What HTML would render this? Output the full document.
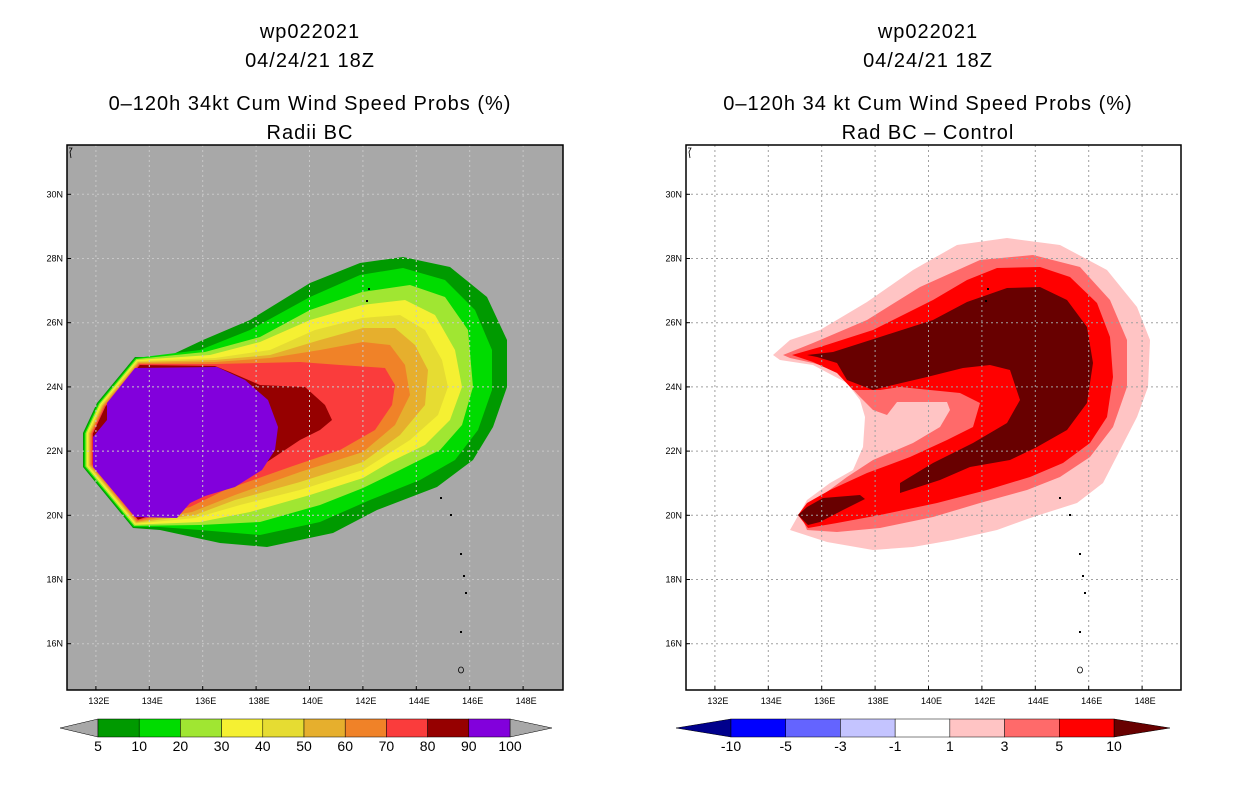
<!DOCTYPE html>
<html><head><meta charset="utf-8"><style>
body{margin:0;background:#fff;width:1236px;height:800px;overflow:hidden}
svg{display:block}
text{font-family:"Liberation Sans",sans-serif}
</style></head><body>
<svg id="s" width="1236" height="800" xmlns="http://www.w3.org/2000/svg">
<g font-size="20" text-anchor="middle" fill="#000" letter-spacing="1">
<text x="310" y="38">wp022021</text>
<text x="310" y="67">04/24/21 18Z</text>
<text x="310" y="110">0–120h 34kt Cum Wind Speed Probs (%)</text>
<text x="310" y="139">Radii BC</text>
</g>
<g font-size="20" text-anchor="middle" fill="#000" letter-spacing="1">
<text x="928" y="38">wp022021</text>
<text x="928" y="67">04/24/21 18Z</text>
<text x="928" y="110">0–120h 34 kt Cum Wind Speed Probs (%)</text>
<text x="928" y="139">Rad BC – Control</text>
</g>
<rect x="67" y="145" width="496" height="545" fill="#a8a8a8"/>
<rect x="686" y="145" width="495" height="545" fill="#fff"/>
<g id="lc"></g>
<g id="rc"></g>
<g id="grid"></g>
<g id="ax"></g>
<g id="cb"></g>
</svg>
<script>
const NS='http://www.w3.org/2000/svg';
const leftLevels=['5','10','20','30','40','50','60','70','80','90','100'];
const leftColors=['#009a00','#00dc00','#a0e632','#f5f032','#e6dc32','#e6af2d','#f08228','#fa3c3c','#960000','#8200dc'];
const rightLevels=['-10','-5','-3','-1','1','3','5','10'];
const rightColors=['#00008c','#0000ff','#6464ff','#c4c4ff','#ffffff','#ffc4c4','#ff6a6a','#ff0000','#680000'];
const lonTicks=[132,134,136,138,140,142,144,146,148];
const latTicks=[16,18,20,22,24,26,28,30];
function lonX(lon,off){return 95.9+(lon-132)*26.7+off;}
function latY(lat){return 515.3-(lat-20)*32.1;}
function mk(tag,attrs,parent){const e=document.createElementNS(NS,tag);for(const k in attrs)e.setAttribute(k,attrs[k]);parent.appendChild(e);return e;}
function poly(p){return 'M'+p.map(q=>q.join(',')).join(' L')+'Z';}
const oct=[[133,528],[83,467],[83,433],[97,403],[135,357]];
function octIn(i){const c=[185,440],f=1-i*0.012;return oct.map(q=>[+(c[0]+(q[0]-c[0])*f).toFixed(1),+(c[1]+(q[1]-c[1])*f).toFixed(1)]);}
const lshapes=[
[[167,357],[203,340],[250,320],[310,283],[360,263],[403,257],[450,267],[487,297],[507,340],[507,387],[493,427],[473,460],[437,487],[377,510],[333,533],[267,547],[220,543],[160,530]],
[[200,350],[250,330],[310,297],[360,275],[403,268],[445,280],[475,310],[492,350],[492,390],[478,430],[455,460],[420,480],[370,500],[320,522],[260,535],[200,530],[160,527]],
[[205,352],[260,337],[310,310],[362,292],[410,285],[445,297],[468,330],[473,387],[462,425],[440,450],[400,470],[363,488],[320,505],[260,522],[200,525]],
[[210,355],[260,342],[310,320],[362,305],[405,300],[435,315],[455,350],[462,387],[450,420],[425,445],[390,462],[363,478],[310,495],[250,512],[200,522]],
[[215,358],[270,350],[315,330],[362,318],[400,315],[425,330],[442,360],[448,387],[438,415],[410,440],[363,470],[300,490],[240,505],[195,518]],
[[215,360],[270,355],[320,340],[363,328],[395,328],[415,345],[428,370],[425,405],[400,435],[363,462],[300,482],[235,500],[195,515]],
[[215,362],[270,358],[320,350],[363,342],[390,345],[405,365],[410,395],[395,425],[363,452],[300,472],[235,495],[192,512]],
[[215,364],[260,363],[300,362],[340,365],[385,368],[395,385],[392,405],[375,430],[340,450],[290,467],[225,490],[190,507]],
[[215,366],[230,372],[260,385],[305,387],[325,405],[332,420],[320,430],[300,440],[270,460],[240,480],[205,493],[190,503]]
];
const lc=document.getElementById('lc');
lshapes.forEach((s,i)=>{const pts=s.concat(octIn(i));
 const e=mk('path',{d:poly(pts),fill:leftColors[i]},lc);
 
 });
const pur=mk('path',{d:poly([[135,368],[217,367],[245,380],[268,400],[278,427],[275,450],[262,470],[235,487],[205,496],[190,503],[177,518],[135,517],[93,467],[93,437],[107,420],[107,403]]),fill:leftColors[9]},lc);


const rshapes=[
[[773,355],[790,340],[820,330],[867,302],[913,270],[957,245],[1007,238],[1060,245],[1107,270],[1137,307],[1150,340],[1148,387],[1137,417],[1120,450],[1103,483],[1077,503],[1033,517],[997,530],[953,540],[913,547],[873,550],[827,542],[790,530],[807,500],[830,483],[853,470],[863,447],[865,417],[860,400],[847,383],[813,365],[780,360]],
[[783,355],[813,343],[867,320],[920,287],[980,260],[1033,255],[1080,267],[1110,300],[1127,340],[1127,387],[1113,427],[1090,457],[1060,477],[1027,490],[980,503],[933,517],[880,528],[837,532],[807,530],[800,513],[820,497],[847,477],[873,460],[913,443],[940,427],[950,410],[947,402],[897,402],[887,415],[873,410],[860,397],[847,383],[837,370],[813,363],[790,358]],
[[792,355],[820,347],[873,330],[933,300],[967,280],[997,268],[1040,267],[1070,277],[1097,303],[1110,337],[1113,377],[1107,417],[1090,443],[1063,463],[1030,477],[987,490],[937,503],[880,515],[837,523],[808,528],[798,515],[807,503],[830,490],[867,473],[910,457],[947,440],[973,427],[980,403],[960,393],[930,390],[900,387],[880,390],[853,390],[837,373],[813,362]],
[[807,355],[833,352],[880,337],[933,320],[967,302],[1007,288],[1040,287],[1067,300],[1087,327],[1093,363],[1087,403],[1067,430],[1037,447],[1010,460],[970,467],[940,480],[900,493],[900,483],[933,463],[973,443],[1007,423],[1020,400],[1010,370],[990,365],[963,368],[927,377],[893,385],[873,390],[847,380],[837,363],[817,357]]
];
const rc=document.getElementById('rc');
rshapes.forEach((s,i)=>{const e=mk('path',{d:poly(s),fill:rightColors[5+i]},rc);
 
 });
const blob=mk('path',{d:poly([[798,515],[807,507],[823,498],[860,495],[865,499],[843,510],[820,522],[808,525]]),fill:rightColors[8]},rc);


const grid=document.getElementById('grid'),ax=document.getElementById('ax');
[[0,67,563,'#c8c8c8'],[619,686,1181,'#a0a0a0']].forEach(([off,x0,x1,gc],pi)=>{
 lonTicks.forEach(l=>{const x=lonX(l,off);
  const g=mk('line',{x1:x,x2:x,y1:145,y2:690,stroke:gc,'stroke-dasharray':'2,3','stroke-width':1},grid);
  
  
  const t=mk('text',{x:x+3,y:704,'font-size':9,'text-anchor':'middle'},ax);t.textContent=l+'E';
  
  
  mk('line',{x1:x,x2:x,y1:690,y2:686,stroke:'#000'},ax);});
 latTicks.forEach(l=>{const y=latY(l);
  const g=mk('line',{x1:x0,x2:x1,y1:y,y2:y,stroke:gc,'stroke-dasharray':'2,3','stroke-width':1},grid);
  
  
  const t=mk('text',{x:x0-4,y:y+3,'font-size':9,'text-anchor':'end'},ax);t.textContent=l+'N';
  
  
  mk('line',{x1:x0,x2:x0+4,y1:y,y2:y,stroke:'#000'},ax);});
 const f=mk('rect',{x:x0,y:145,width:x1-x0,height:545,fill:'none',stroke:'#000','stroke-width':1.5},ax);
 
 
 [[368,288],[366,300],[440,497],[450,514],[460,553],[463,575],[465,592],[460,631]].forEach(([lx,ly])=>{mk('rect',{x:lx+off,y:ly,width:2,height:2,fill:'#000'},ax);});
 mk('ellipse',{cx:461+off,cy:670,rx:2.5,ry:3,fill:'none',stroke:'#000','stroke-width':0.8},ax);
 mk('path',{d:`M${69+off},148 l3,0 l-2,4 l1,6`,fill:'none',stroke:'#000','stroke-width':0.8},ax);
});
const cb=document.getElementById('cb');
function bar(x0,x1,y0,h,tipL,tipR,cols,labs,tipCols,name){
 const n=cols.length,w=(x1-x0)/n;
 mk('path',{d:`M${tipL},${y0+h/2} L${x0},${y0} L${x0},${y0+h}Z`,fill:tipCols[0],stroke:'#000','stroke-width':0.5},cb);
 mk('path',{d:`M${tipR},${y0+h/2} L${x1},${y0} L${x1},${y0+h}Z`,fill:tipCols[1],stroke:'#000','stroke-width':0.5},cb);
 cols.forEach((c,i)=>{const r=mk('rect',{x:x0+i*w,y:y0,width:w,height:h,fill:c,stroke:'#000','stroke-width':0.5},cb);
  
  });
 labs.forEach((l,i)=>{const t=mk('text',{x:x0+i*w,y:y0+h+14,'font-size':14,'text-anchor':'middle'},cb);t.textContent=l;
  
  });
}
bar(98,510,719,18,60,552,leftColors,leftLevels,['#a8a8a8','#a8a8a8'],'left-colorbar');
bar(731,1114,719,18,676,1170,rightColors.slice(1,8),rightLevels,[rightColors[0],rightColors[8]],'right-colorbar');
</script>
</body></html>
